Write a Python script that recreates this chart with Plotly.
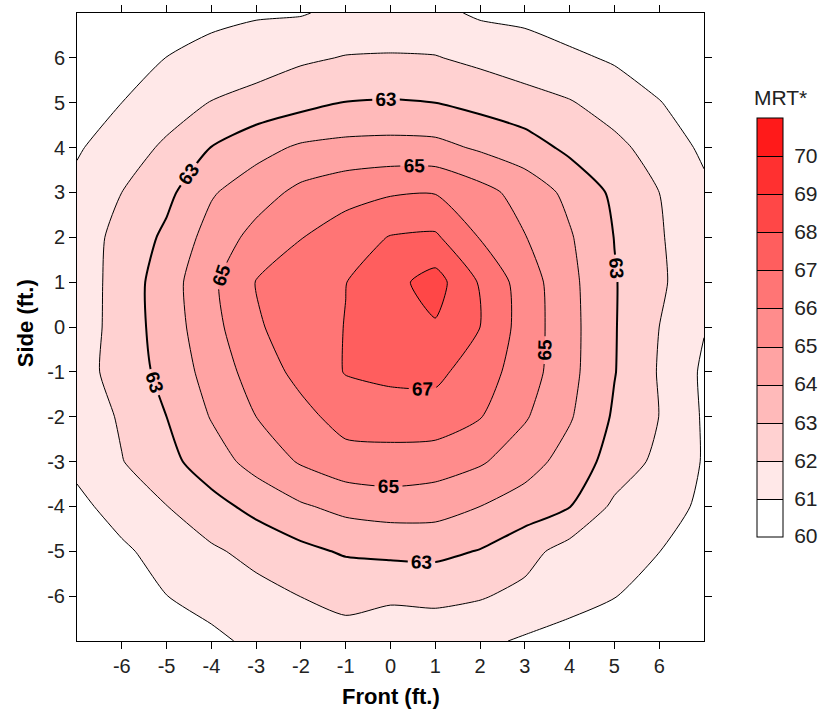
import plotly.graph_objects as go

# Grid coordinates (ft.)
front_ft = [-7, -6, -5, -4, -3, -2, -1, 0, 1, 2, 3, 4, 5, 6, 7]
side_ft = [-7, -6, -5, -4, -3, -2, -1, 0, 1, 2, 3, 4, 5, 6, 7]

# MRT* values, one row per side position (y = -7 ... 7), columns = front -7 ... 7
mrt_row_m7 = [60.1, 60.3, 60.5, 60.8, 61.2, 61.5, 61.8, 61.2, 61.46, 61.2, 60.88, 60.6, 60.4, 60.2, 60.0]
mrt_row_m6 = [60.31, 60.65, 60.99, 61.33, 61.67, 62.01, 62.15, 62.2, 62.2, 62.08, 61.74, 61.38, 61.03, 60.6, 60.25]
mrt_row_m5 = [60.35, 60.85, 61.35, 61.85, 62.3, 62.74, 63.12, 63.2, 63.25, 62.95, 62.35, 61.6, 61.35, 61.01, 60.6]
mrt_row_m4 = [60.77, 61.37, 61.98, 62.66, 63.29, 63.88, 64.28, 64.45, 64.4, 64.0, 63.53, 63.03, 61.8, 61.36, 60.84]
mrt_row_m3 = [61.23, 61.96, 62.7, 63.53, 64.37, 65.1, 65.6, 65.7, 65.5, 65.12, 64.43, 63.59, 62.61, 61.75, 60.93]
mrt_row_m2 = [61.28, 62.14, 63.0, 64.06, 65.0, 65.69, 66.4, 66.4, 66.55, 66.05, 65.1, 64.1, 62.87, 61.99, 60.89]
mrt_row_m1 = [61.58, 62.41, 63.31, 64.4, 65.44, 66.3, 67.05, 67.3, 67.25, 66.47, 65.5, 64.29, 63.04, 61.93, 60.84]
mrt_row_0 = [61.45, 62.43, 63.48, 64.65, 65.88, 66.49, 67.03, 67.5, 67.9, 67.0, 65.56, 64.32, 63.06, 62.0, 61.05]
mrt_row_p1 = [61.42, 62.43, 63.52, 64.79, 66.04, 66.5, 66.98, 67.68, 68.4, 66.9, 65.52, 64.27, 63.06, 62.17, 61.27]
mrt_row_p2 = [61.49, 62.31, 63.2, 64.4, 65.32, 65.97, 66.5, 67.05, 67.15, 65.95, 65.04, 64.1, 62.98, 62.11, 61.2]
mrt_row_p3 = [61.25, 62.0, 62.75, 63.9, 64.57, 65.25, 65.65, 65.9, 65.95, 65.35, 64.6, 63.75, 62.81, 62.0, 61.2]
mrt_row_p4 = [60.9, 61.5, 62.17, 63.02, 63.65, 64.15, 64.3, 64.35, 64.3, 63.86, 63.45, 62.78, 62.25, 61.59, 60.82]
mrt_row_p5 = [60.45, 61.0, 61.52, 62.04, 62.37, 62.7, 63.03, 63.08, 63.0, 62.7, 62.38, 62.07, 61.58, 61.04, 60.5]
mrt_row_p6 = [60.2, 60.72, 61.01, 61.25, 61.52, 61.85, 62.05, 62.08, 62.05, 61.77, 61.48, 61.19, 60.88, 60.5, 60.1]
mrt_row_p7 = [60.0, 60.2, 60.5, 60.8, 60.9, 60.93, 61.25, 61.35, 61.25, 60.85, 60.75, 60.45, 60.25, 60.1, 60.0]

mrt = [mrt_row_m7, mrt_row_m6, mrt_row_m5, mrt_row_m4, mrt_row_m3, mrt_row_m2, mrt_row_m1,
       mrt_row_0, mrt_row_p1, mrt_row_p2, mrt_row_p3, mrt_row_p4, mrt_row_p5, mrt_row_p6, mrt_row_p7]

tick_vals = [-6, -5, -4, -3, -2, -1, 0, 1, 2, 3, 4, 5, 6]
tick_text = ["-6", "-5", "-4", "-3", "-2", "-1", "0", "1", "2", "3", "4", "5", "6"]
cbar_tick_vals = [60.02, 61, 62, 63, 64, 65, 66, 67, 68, 69, 70]
cbar_tick_text = ["60", "61", "62", "63", "64", "65", "66", "67", "68", "69", "70"]

band_colors = ["#FFFFFF", "#FFE8E8", "#FFD1D1", "#FFBABA", "#FFA3A3", "#FF8C8C",
               "#FF7575", "#FF5E5E", "#FF4747", "#FF3030", "#FF1A1A"]
# bands are evaluated at their midpoints for the filled contour
colorscale = [[i / 10, c] for i, c in enumerate(band_colors)]
# stepped version for the colour bar (range 60 .. 71, 11 equal bands)
nb = len(band_colors)
step_scale = []
for i, c in enumerate(band_colors):
    step_scale.append([i / nb, c])
    step_scale.append([(i + 1) / nb, c])

FONT = "Liberation Sans, Arial, sans-serif"
SMOOTH = 0.6
LABEL_FONT = dict(family=FONT, size=19, color="black", weight="bold")

fig = go.Figure()

# Filled bands
fig.add_trace(go.Contour(
    x=front_ft, y=side_ft, z=mrt,
    autocontour=False,
    contours=dict(start=61, end=70, size=1, coloring="fill", showlines=False),
    colorscale=colorscale, showscale=False,
    line=dict(width=0, smoothing=SMOOTH),
    hoverinfo="skip",
))

# Thin unlabeled lines: 61, 62, 64, 66, 68
for s, e in [(61, 61), (62, 68)]:
    fig.add_trace(go.Contour(
        x=front_ft, y=side_ft, z=mrt,
        autocontour=False,
        contours=dict(start=s, end=e, size=2, coloring="none"),
        line=dict(color="black", width=1, smoothing=SMOOTH),
        showscale=False, hoverinfo="skip",
    ))

# Labeled lines: (level, line width, number of label-spacing levels)
labeled = [(63, 2, 55), (65, 1, 60), (67, 1, 1)]
for lvl, w, n in labeled:
    fig.add_trace(go.Contour(
        x=front_ft, y=side_ft, z=mrt,
        autocontour=False,
        contours=dict(start=lvl, end=lvl + 20 * (n - 1), size=20, coloring="none",
                      showlabels=True, labelfont=LABEL_FONT),
        line=dict(color="black", width=w, smoothing=SMOOTH),
        showscale=False, hoverinfo="skip",
    ))

# Colour bar carrier (data lies outside the visible axis range)
fig.add_trace(go.Contour(
    x=[100, 101], y=[100, 101], z=[[60, 71], [71, 60]],
    autocontour=False, zauto=False, zmin=60, zmax=71,
    contours=dict(start=61, end=70, size=1, coloring="heatmap", showlines=True),
    colorscale=step_scale,
    line=dict(color="black", width=1),
    hoverinfo="skip",
    colorbar=dict(
        x=1.0845, xanchor="left", xpad=0,
        y=0.5, yanchor="middle", ypad=0,
        len=0.667, lenmode="fraction", thickness=26,
        outlinecolor="black", outlinewidth=1,
        tickvals=cbar_tick_vals, ticktext=cbar_tick_text,
        ticks="outside", ticklen=7, tickcolor="rgba(0,0,0,0)",
        tickfont=dict(family=FONT, size=21, color="#222"),
    ),
))

axis_common = dict(
    range=[-7, 7], tickvals=tick_vals, ticktext=tick_text, ticks="outside", ticklen=7,
    tickcolor="black", tickwidth=1, showline=True, linecolor="black",
    linewidth=1, mirror="allticks", showgrid=False, zeroline=False,
    tickfont=dict(family=FONT, size=20, color="#222"),
)

fig.update_layout(
    width=820, height=713,
    margin=dict(l=77, r=116, t=13, b=72, autoexpand=False),
    paper_bgcolor="white", plot_bgcolor="white",
    xaxis=dict(**axis_common),
    yaxis=dict(**axis_common),
    showlegend=False,
    annotations=[
        dict(text="<b>Front (ft.)</b>", x=0.5, y=-0.088, xref="paper", yref="paper",
             xanchor="center", yanchor="middle", showarrow=False,
             font=dict(family=FONT, size=22, color="black")),
        dict(text="<b>Side (ft.)</b>", x=-0.083, y=0.506, xref="paper", yref="paper",
             xanchor="center", yanchor="middle", textangle=-90, showarrow=False,
             font=dict(family=FONT, size=22, color="black")),
        dict(text="MRT*", x=1.0766, y=0.866, xref="paper", yref="paper",
             xanchor="left", yanchor="middle", showarrow=False,
             font=dict(family=FONT, size=21, color="#222")),
    ],
)

fig.write_html("out.html")
